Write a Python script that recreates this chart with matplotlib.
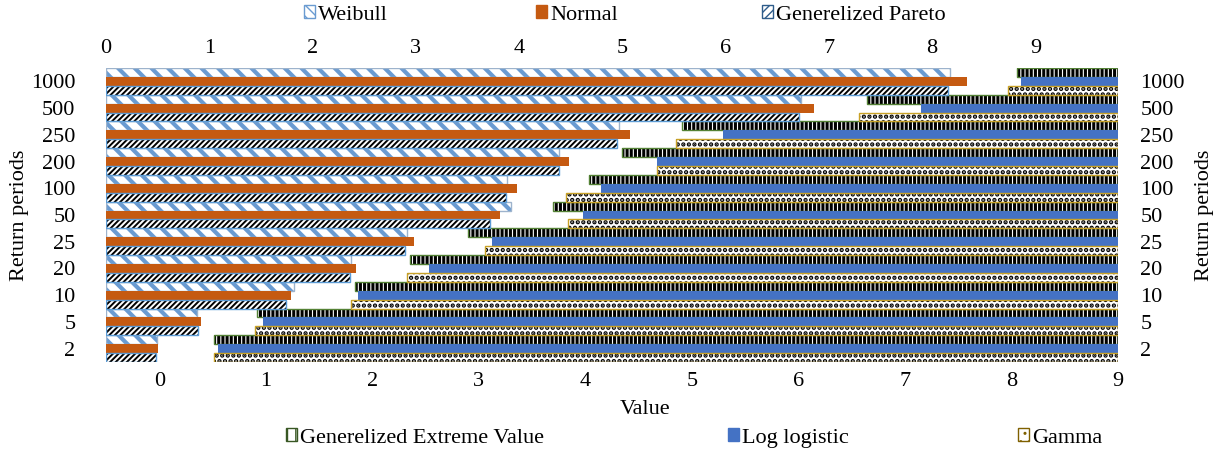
import numpy as np
import matplotlib.pyplot as plt
from matplotlib.patches import Patch

plt.rcParams['font.family'] = ['Liberation Serif', 'DejaVu Serif']

periods = ["2", "5", "10", "20", "25", "50", "100", "200", "250", "500", "1000"]

# series on the top axis (bars grow from the left)
weibull = [0.49, 0.88, 1.82, 2.37, 2.91, 3.92, 3.88, 4.39, 4.97, 6.73, 8.17]
normal = [0.50, 0.92, 1.79, 2.42, 2.98, 3.82, 3.98, 4.48, 5.07, 6.86, 8.34]
pareto = [0.48, 0.89, 1.74, 2.36, 2.90, 3.72, 3.87, 4.39, 4.95, 6.71, 8.15]

# series on the bottom axis (bars hang from the maximum, 9)
gev = [0.51, 0.92, 1.84, 2.35, 2.90, 3.70, 4.03, 4.34, 4.91, 6.64, 8.05]
loglogistic = [0.55, 0.97, 1.87, 2.53, 3.12, 3.98, 4.15, 4.67, 5.29, 7.15, 8.09]
gamma = [0.51, 0.90, 1.80, 2.33, 3.06, 3.84, 3.82, 4.67, 4.85, 6.57, 7.97]

BOT_MIN, BOT_MAX = -0.5, 9
TOP_MAX = 9.8
h = 1 / 3
y = np.arange(len(periods))

fig = plt.figure(figsize=(12.19, 4.5), dpi=100)
ax = fig.add_axes([106 / 1219, 1 - 362 / 450, (1118 - 106) / 1219, (362 - 68) / 450])
ax2 = ax.twiny()


def hbar(a, ypos, width, left, face, hatch, hcolor, edge, hlw):
    with plt.rc_context({'hatch.linewidth': hlw}):
        bars = a.barh(ypos, width, height=h, left=left, color=face, hatch=hatch,
                      edgecolor=hcolor, linewidth=0)
    for b in bars:
        if hasattr(b, "set_hatch_linewidth"):
            b.set_hatch_linewidth(hlw)
    if edge is not None:
        a.barh(ypos, width, height=h, left=left, fill=False, edgecolor=edge, linewidth=1)


# left-grown series on top axis
hbar(ax2, y + h, weibull, 0, "white", "\\\\", "#6A9BD1", "#9DB3CC", 3.0)
ax2.barh(y, normal, height=h, color="#C55A11", linewidth=0)
hbar(ax2, y - h, pareto, 0, "white", "//////", "black", "#5B9BD5", 1.4)

# right-hanging series on bottom axis
gev_w = [BOT_MAX - v for v in gev]
ll_w = [BOT_MAX - v for v in loglogistic]
ga_w = [BOT_MAX - v for v in gamma]
hbar(ax, y + h, gev_w, gev, "white", "||||", "black", "#548235", 2.2)
ax.barh(y, ll_w, height=h, left=loglogistic, color="#4472C4", linewidth=0)
hbar(ax, y - h, ga_w, gamma, "white", "...", "black", "#C9A227", 2.2)

ax.set_xlim(BOT_MIN, BOT_MAX)
ax2.set_xlim(0, TOP_MAX)
ax.set_ylim(-0.5, len(periods) - 0.5)

ax.set_xticks(range(0, 10))
ax2.set_xticks(range(0, 10))
ax.set_yticks(y)
ax.set_yticklabels(periods)

fs = 16
ax.tick_params(axis='x', length=0, pad=7, labelsize=fs)
ax2.tick_params(axis='x', length=0, pad=7, labelsize=fs)
ax.tick_params(axis='y', length=0, pad=22, labelsize=fs)

ax2.yaxis.set_visible(True)
ax2.yaxis.tick_right()
ax2.tick_params(axis='y', length=0, pad=16, labelsize=fs)

for a in (ax, ax2):
    for s in a.spines.values():
        s.set_visible(False)

fig.text(20 / 1219, 1 - 215 / 450, "Return periods", rotation=90, ha='center', va='center', fontsize=fs)
fig.text(1205 / 1219, 1 - 215 / 450, "Return periods", rotation=90, ha='center', va='center', fontsize=fs)
fig.text(645 / 1219, 1 - 410 / 450, "Value", ha='center', va='center', fontsize=fs)

with plt.rc_context({'hatch.linewidth': 1.0}):
    handles_top = [
        (Patch(facecolor="white", hatch="\\\\\\", edgecolor="#6A9BD1"), "Weibull", 304),
        (Patch(facecolor="#C55A11", edgecolor="#C55A11"), "Normal", 536),
        (Patch(facecolor="white", hatch="////", edgecolor="#2E5C8A"), "Generelized Pareto", 762),
    ]
    handles_bot = [
        (Patch(facecolor="white", hatch="||", edgecolor="#385723"), "Generelized Extreme Value", 286),
        (Patch(facecolor="#4472C4", edgecolor="#4472C4"), "Log logistic", 728),
        (Patch(facecolor="white", hatch="..", edgecolor="#7F6000"), "Gamma", 1018),
    ]

for handles, ypix in ((handles_top, 15), (handles_bot, 438)):
    for patch, label, xpix in handles:
        fig.legend([patch], [label], loc='center left',
                   bbox_to_anchor=(xpix / 1219, 1 - ypix / 450),
                   frameon=False, fontsize=fs, handlelength=0.5, handleheight=0.5,
                   handletextpad=0.15, borderpad=0, borderaxespad=0)

fig.savefig("out.png", dpi=100)
